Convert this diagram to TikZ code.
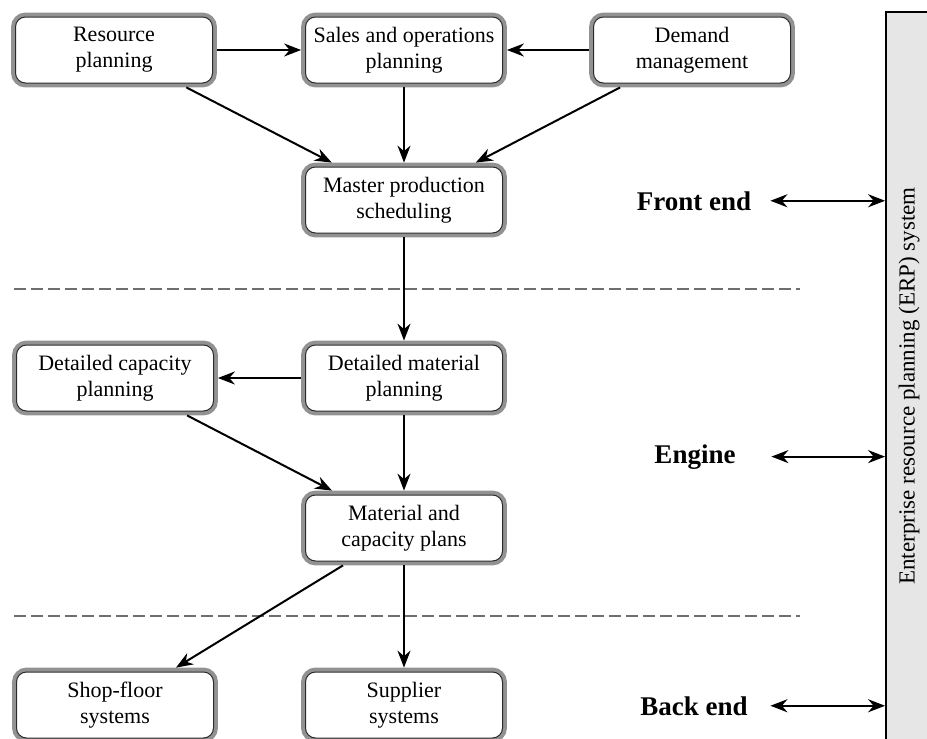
\documentclass[tikz,border=0pt]{standalone}
\usepackage{fontspec}
\setmainfont{Liberation Serif}
\usetikzlibrary{arrows.meta}
\definecolor{bandgray}{HTML}{929292}
\definecolor{linegray}{HTML}{2B2B2B}
\definecolor{dashgray}{HTML}{6E6E6E}
\definecolor{bargray}{HTML}{E6E6E6}

\begin{document}
\begin{tikzpicture}[
    x=0.5pt, y=-0.5pt,
    block/.style={draw=linegray, line width=0.5pt, rounded corners=5pt, fill=white, preaction={draw=bandgray, line width=4.4pt}, minimum width=98.5pt, minimum height=33pt, align=center, inner sep=0pt, outer sep=2.2pt, font=\fontsize{11}{13}\selectfont},
    level/.style={anchor=base, inner sep=0pt, minimum width=58pt, font=\bfseries\fontsize{13.5}{16}\selectfont},
    erpbar/.style={draw=black, line width=0.9pt, fill=bargray, minimum width=23pt, minimum height=374pt, inner sep=0pt, font=\fontsize{11.5}{13}\selectfont},
    split/.style={dashgray, line width=0.6pt, dash pattern=on 6pt off 2.5pt},
    arrow/.style={-{Stealth[length=8.5pt,width=6.5pt]}, line width=1pt},
    twoway/.style={{Stealth[length=8.5pt,width=6.5pt]}-{Stealth[length=8.5pt,width=6.5pt]}, line width=1pt, shorten <=9pt}
]
\useasboundingbox (0,0) rectangle (927,739);

\node[erpbar] (erp) at (909,386) {\rotatebox{90}{Enterprise resource planning (ERP) system}};

\node[block] (res) at (114,50) {Resource\\planning};
\node[block] (sop) at (404,50) {Sales and operations\\planning};
\node[block] (dem) at (692,50) {Demand\\management};

\node[block] (mps) at (404,200) {Master production\\scheduling};

\node[block] (dcp) at (115,378) {Detailed capacity\\planning};
\node[block] (dmp) at (404,378) {Detailed material\\planning};

\node[block] (mcp) at (404,528) {Material and\\capacity plans};

\node[block] (sfs) at (115,705) {Shop-floor\\systems};
\node[block] (sup) at (404,705) {Supplier\\systems};

\node[level] (frontend) at (694,210) {Front end};
\node[level] (engine) at (695,463) {Engine};
\node[level] (backend) at (694,715) {Back end};

\draw[split] (14,289) -- (800,289);
\draw[split] (14,616) -- (800,616);

\draw[arrow] (res) -- (sop);
\draw[arrow] (dem) -- (sop);

\draw[arrow] (res) -- (mps);
\draw[arrow] (sop) -- (mps);
\draw[arrow] (dem) -- (mps);

\draw[arrow] (mps) -- (dmp);
\draw[arrow] (dmp) -- (dcp);

\draw[arrow] (dcp) -- (mcp);
\draw[arrow] (dmp) -- (mcp);

\draw[arrow] (mcp) -- (sfs);
\draw[arrow] (mcp) -- (sup);

\draw[twoway] (frontend.east) -- (frontend.east -| erp.west);
\draw[twoway] (engine.east) -- (engine.east -| erp.west);
\draw[twoway] (backend.east) -- (backend.east -| erp.west);

\end{tikzpicture}
\end{document}
